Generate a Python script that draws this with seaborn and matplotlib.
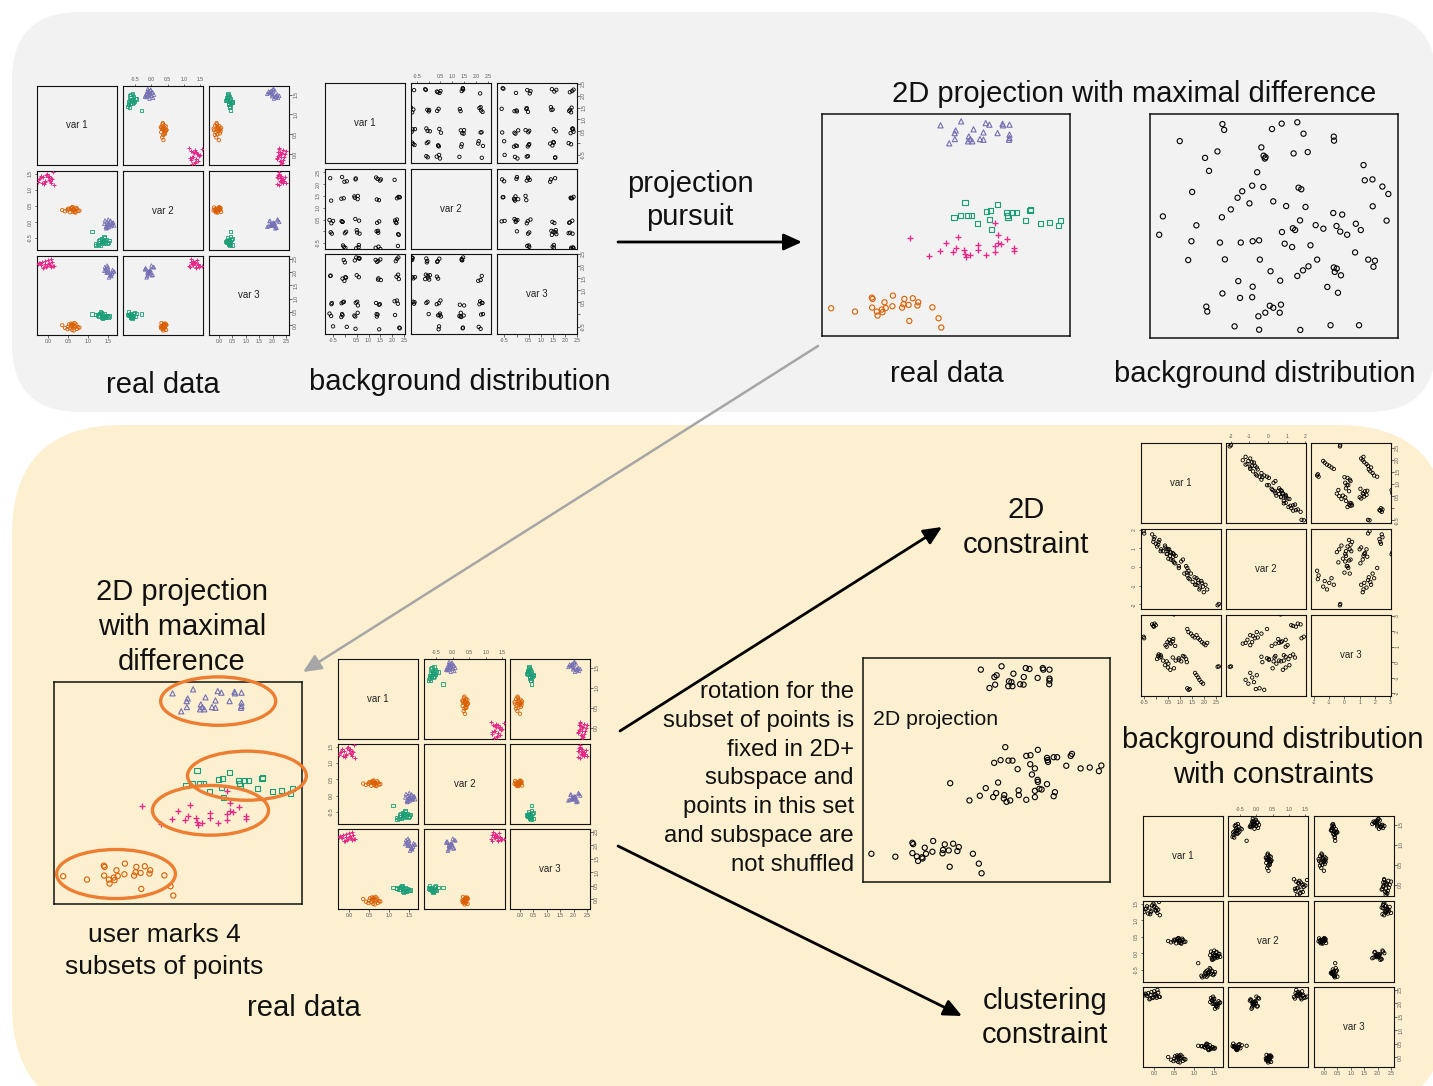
import matplotlib
matplotlib.use("Agg")
import matplotlib.pyplot as plt
from matplotlib.patches import FancyBboxPatch, Ellipse
import numpy as np
import pandas as pd
import seaborn as sns

plt.rcParams["font.family"] = ["Liberation Sans", "DejaVu Sans"]

# ---------------- data ----------------
cluster_names = ["green", "purple", "orange", "pink"]
cluster_colors = {"green": "#1b9e77", "purple": "#7570b3",
                  "orange": "#d95f02", "pink": "#e7298a"}
cluster_markers = {"green": "s", "purple": "^", "orange": "o", "pink": "+"}

# three-variable data set, four clusters
green_v1 = [1.42, 1.30, 1.25, 1.38, 1.47, 1.33, 1.20, 1.36, 1.52, 1.29,
            1.41, 1.18, 1.35, 1.45, 1.31, 1.27, 1.39, 1.50, 1.34, 1.10]
green_v2 = [-0.62, -0.55, -0.70, -0.58, -0.66, -0.52, -0.73, -0.60, -0.57, -0.64,
            -0.49, -0.68, -0.61, -0.54, -0.71, -0.59, -0.45, -0.63, -0.67, -0.30]
green_v3 = [0.30, 0.45, 0.38, 0.28, 0.36, 0.48, 0.41, 0.26, 0.34, 0.43,
            0.33, 0.40, 0.29, 0.37, 0.50, 0.35, 0.44, 0.31, 0.39, 0.42]

purple_v1 = [1.55, 1.48, 1.60, 1.42, 1.52, 1.63, 1.45, 1.57, 1.50, 1.40,
             1.58, 1.47, 1.53, 1.61, 1.44, 1.56, 1.49, 1.65, 1.51, 1.46]
purple_v2 = [0.02, -0.18, -0.08, 0.05, -0.15, -0.02, -0.20, -0.10, 0.08, -0.06,
             -0.13, 0.00, -0.09, -0.03, -0.16, 0.04, -0.07, -0.11, -0.05, -0.12]
purple_v3 = [1.88, 2.15, 1.95, 2.20, 1.80, 2.02, 2.10, 1.92, 2.18, 2.05,
             1.85, 2.25, 1.97, 2.08, 2.12, 1.90, 2.00, 2.03, 2.06, 1.98]

orange_v1 = [0.62, 0.55, 0.70, 0.48, 0.66, 0.58, 0.75, 0.60, 0.52, 0.68,
             0.64, 0.35, 0.42, 0.57, 0.72, 0.63, 0.50, 0.78, 0.61, 0.66]
orange_v2 = [0.38, 0.30, 0.44, 0.36, 0.31, 0.42, 0.34, 0.45, 0.39, 0.29,
             0.36, 0.37, 0.33, 0.43, 0.40, 0.32, 0.41, 0.35, 0.46, 0.39]
orange_v3 = [0.05, -0.12, 0.02, -0.15, 0.08, -0.02, -0.08, -0.18, 0.03, -0.05,
             -0.20, 0.00, -0.10, 0.06, -0.14, -0.04, -0.06, -0.09, 0.01, -0.03]

pink_v1 = [-0.05, -0.15, 0.05, -0.20, 0.00, -0.10, 0.10, -0.25, -0.02, 0.08,
           -0.12, 0.03, -0.18, 0.14, -0.07, 0.06, -0.22, 0.01, -0.09, 0.12]
pink_v2 = [1.45, 1.20, 1.28, 1.35, 1.40, 1.18, 1.32, 1.25, 1.50, 1.22,
           1.38, 1.30, 1.42, 1.15, 1.27, 1.36, 1.33, 1.44, 1.24, 1.55]
pink_v3 = [2.20, 2.38, 2.27, 2.33, 2.45, 2.18, 2.40, 2.30, 2.22, 2.50,
           2.15, 2.35, 2.28, 2.24, 2.42, 2.21, 2.36, 2.31, 2.32, 2.25]

# background distribution (columns shuffled independently)
bg_v1 = [-0.62, -0.55, -0.10, -0.05, 0.02, 0.45, 0.52, 0.60, 1.35, 1.42,
         1.48, 2.15, 2.25, 2.30, -0.12, 0.48, 1.40, 2.20, -0.58, 0.00,
         0.55, 1.38, 2.18, -0.08, 0.42, 1.45, 2.28, -0.65, 0.58, 1.32,
         -0.15, 0.50, 1.50, 2.10, -0.50, 0.05, 0.40, 1.36, 2.24, -0.02,
         0.62, 1.44, 2.12, -0.60, 0.46, 1.30, 2.32, -0.10, 0.54, 1.41,
         -0.04, 0.44, 1.52, 2.20, -0.57, 0.08, 0.59, 1.34, 2.26, -0.14]
bg_v2 = [2.25, -0.10, 0.40, 1.40, -0.70, 2.20, -0.05, 0.45, 1.35, -0.65,
         2.15, 0.38, -0.12, 1.45, 2.30, -0.72, 0.02, 0.50, 1.30, -0.08,
         1.50, 2.22, 0.35, -0.60, 1.42, 0.42, -0.15, 0.48, -0.68, 2.28,
         1.38, 0.05, -0.75, 2.18, 0.44, -0.02, 1.48, 0.36, -0.62, 2.10,
         -0.10, 1.32, 0.46, -0.04, 2.24, -0.70, 1.44, 0.40, 1.36, -0.06,
         -0.66, 0.52, 2.20, 1.40, 0.34, 2.12, -0.58, 0.00, 1.46, 0.43]
bg_v3 = [1.55, 0.45, -0.05, 2.20, 1.50, -0.60, 0.50, 2.25, -0.10, 1.45,
         0.40, 2.15, 1.60, -0.55, 0.00, 2.30, 1.40, 0.55, -0.08, 2.10,
         0.35, -0.02, 1.52, 0.48, 2.18, -0.62, 1.42, 0.02, 2.28, 0.45,
         -0.12, 1.58, 2.22, 0.52, -0.50, 1.48, -0.06, 2.12, 0.42, 1.35,
         2.26, 0.38, -0.04, 1.56, 0.46, 2.20, -0.58, 1.44, 0.05, 2.16,
         0.50, -0.10, 1.38, 2.24, 0.40, -0.52, 1.50, 0.00, 2.30, 0.44]

# background distribution with a 2D constraint
c2_v1 = [-0.50, -0.48,
         -0.15, -0.10, -0.05, 0.00, -0.08,
         0.62, 0.75,
         0.15, 0.20, 0.05, 0.12, 0.22, 0.10,
         0.40, 0.48, 0.55, 0.62, 0.70, 0.80, 0.72, 0.58, 0.45,
         0.30, 0.38, 0.45, 0.50, 0.52, 0.60, 0.75,
         0.70, 0.82, 0.95, 1.05, 1.18, 1.25, 1.28, 1.12, 0.95,
         1.30, 1.35, 1.45, 1.52, 1.60, 1.68, 1.75, 1.82, 1.90, 1.98, 2.05, 2.12,
         1.62, 1.68, 1.75, 1.80, 1.88, 1.95,
         1.30, 1.35, 1.40,
         2.55, 2.60]
c2_v2 = [1.92, 1.80,
         1.75, 1.35, 1.60, 1.25, 1.50,
         0.78, 0.68,
         1.45, 0.85, 1.10, 1.35, 0.95, 1.20,
         1.05, 0.70, 0.95, 0.40, 0.75, 0.20, 0.55, 0.60, 0.95,
         0.85, 1.15, 0.70, 0.95, 0.45, 0.80, 0.25,
         0.35, 0.60, -0.05, 0.30, -0.35, 0.05, -0.30, 0.40, 0.05,
         -0.05, -0.60, -0.35, -0.80, -0.55, -0.95, -0.70, -1.10, -0.85, -1.35, -0.95, -1.20,
         -0.95, -0.60, -0.85, -1.20, -0.75, -1.05,
         -0.45, -0.20, -0.65,
         -2.05, -1.98]
c2_v3 = [1.65, 1.55,
         2.45, 2.35, 2.50, 2.40, 2.30,
         3.15, 3.10,
         0.30, 0.45, 0.20, 0.50, 0.35, 0.40,
         1.10, 1.30, 1.45, 1.20, 1.35, 1.05, 1.50, 1.25, 1.00,
         0.10, -0.20, 0.05, -0.35, -0.10, -0.50, -0.40,
         0.30, 0.10, 0.25, 0.05, 0.35, 0.20, 0.00, 0.40, 0.15,
         2.15, 1.95, 1.85, 1.70, 1.60, 1.75, 1.55, 1.45, 1.30, 1.20, 1.10, 1.25,
         -0.70, -0.85, -1.00, -1.15, -1.30, -1.40,
         -1.70, -1.80, -1.75,
         -0.30, -0.28]

# 2D projection with maximal difference (projected coordinates, per cluster)
proj_purple_x = [47.8, 56.1, 66.0, 67.5, 72.8, 75.6, 73.0, 65.1, 61.1, 53.9, 53.5, 53.6,
                 59.2, 59.8, 58.9, 60.6, 63.7, 65.1, 70.8, 75.6, 75.6, 75.4, 51.3]
proj_purple_y = [94.9, 96.7, 95.9, 95.2, 95.6, 95.2, 94.9, 91.7, 93.1, 92.6, 91.4, 88.7,
                 89.9, 88.7, 87.7, 87.7, 88.7, 88.4, 91.4, 90.7, 89.2, 88.4, 86.8]
proj_green_x = [57.7, 70.8, 53.2, 55.8, 58.9, 60.4, 66.3, 67.9, 62.6, 67.7, 74.5, 74.7,
                75.0, 76.8, 78.5, 84.2, 83.9, 82.2, 88.1, 91.7, 95.4, 96.3, 68.3]
proj_green_y = [60.2, 59.1, 53.2, 54.4, 54.1, 54.1, 56.1, 56.5, 50.5, 52.6, 55.6, 54.1,
                53.4, 55.6, 55.8, 57.1, 56.4, 51.9, 50.7, 51.1, 49.6, 52.0, 47.8]
proj_pink_x = [35.4, 43.3, 47.4, 49.8, 54.9, 52.9, 54.1, 57.2, 57.5, 58.1, 59.7, 63.1,
               63.1, 66.2, 69.6, 70.8, 69.6, 69.6, 71.1, 72.3, 74.5, 77.4, 77.3]
proj_pink_y = [44.1, 36.2, 38.5, 42.1, 44.4, 38.0, 39.8, 38.8, 36.8, 35.8, 36.4, 40.8,
               38.6, 36.5, 50.8, 45.6, 40.6, 38.0, 42.0, 41.4, 43.6, 39.8, 38.3]
proj_orange_x = [3.7, 13.3, 20.1, 20.4, 20.2, 22.1, 22.4, 24.1, 24.4, 25.7, 25.2, 28.6,
                 28.4, 32.3, 32.9, 34.9, 33.2, 36.6, 38.8, 38.5, 44.5, 35.2, 47.0, 48.1]
proj_orange_y = [12.5, 11.0, 17.3, 16.7, 12.8, 11.0, 9.2, 11.9, 10.7, 12.6, 15.2, 18.2,
                 13.4, 12.8, 14.3, 14.0, 16.7, 17.0, 15.2, 13.7, 12.9, 6.8, 8.0, 3.8]

# same projection of the background distribution
bgproj_x = [29.2, 29.9, 49.2, 53.1, 59.4, 61.9, 74.1, 74.2, 12.0, 27.2, 22.2, 44.9,
            45.8, 46.6, 46.3, 57.9, 63.6, 86.1, 23.8, 43.2, 86.6, 89.7, 93.7, 96.1,
            17.0, 37.2, 41.2, 45.7, 59.9, 61.0, 35.3, 40.1, 49.7, 54.9, 62.7, 89.8,
            5.2, 32.6, 29.0, 73.9, 77.5, 60.5, 95.4, 18.7, 57.6, 58.5, 53.2, 66.8,
            69.9, 75.2, 76.7, 79.5, 83.0, 85.0, 3.7, 16.7, 28.2, 36.6, 41.4, 44.0,
            54.3, 57.3, 64.7, 82.7, 15.4, 30.2, 44.3, 67.4, 88.0, 90.7, 90.1, 48.6,
            61.7, 63.9, 74.1, 75.3, 74.5, 77.0, 59.4, 35.6, 52.5, 41.4, 71.5, 75.8,
            29.2, 36.3, 41.2, 22.7, 23.1, 48.3, 49.7, 52.8, 46.5, 52.3, 43.7, 34.1,
            44.0, 60.6, 72.8, 84.3]
bgproj_y = [95.5, 92.9, 93.3, 95.7, 96.3, 91.2, 89.9, 88.1, 87.9, 83.3, 80.4, 85.1,
            81.4, 80.7, 80.1, 82.4, 83.0, 77.2, 74.6, 74.0, 70.4, 70.8, 67.6, 64.3,
            65.2, 65.5, 68.0, 67.4, 67.1, 66.4, 62.6, 60.1, 61.0, 58.9, 58.5, 58.8,
            54.3, 57.4, 53.9, 55.8, 55.1, 52.5, 52.4, 50.3, 49.0, 48.2, 47.3, 50.4,
            48.8, 50.0, 47.5, 46.1, 51.0, 48.2, 46.1, 43.2, 42.6, 42.6, 43.2, 43.6,
            42.1, 40.6, 41.4, 38.2, 34.8, 35.1, 35.0, 35.0, 35.0, 34.5, 31.8, 29.8,
            30.2, 32.0, 31.5, 31.0, 29.5, 28.0, 27.7, 25.4, 25.6, 22.9, 22.8, 20.2,
            19.9, 17.9, 18.2, 14.0, 11.8, 14.4, 13.5, 14.9, 11.3, 11.3, 9.7, 5.2,
            3.7, 3.6, 5.7, 5.7]

# 2D projection of the constrained background (rotation fixed for the subset)
fixed_x = [47.7, 56.1, 60.9, 65.9, 67.4, 72.8, 73.0, 75.5, 53.2, 54.1, 53.5, 51.2,
           59.1, 60.1, 58.8, 60.5, 63.6, 65.0, 65.1, 70.7, 75.5, 75.5, 75.4,
           57.6, 70.8, 66.1, 67.8, 53.1, 55.7, 58.9, 60.5, 62.6, 67.7, 69.6, 68.4,
           70.7, 70.8, 74.5, 74.7, 74.9, 77.2, 78.6, 84.1, 84.6, 82.3, 88.1, 91.8,
           95.5, 96.5, 35.3, 49.7, 47.3, 43.1, 53.9, 54.7, 52.7, 57.2, 57.0, 58.1,
           59.6, 63.0, 63.1, 66.1, 69.6, 69.6, 71.4, 72.3, 74.5, 77.2, 77.7,
           3.4, 13.1, 20.0, 20.3, 20.0, 21.8, 22.3, 23.8, 24.1, 25.0, 25.5, 28.4,
           28.1, 32.2, 32.4, 33.1, 34.7, 36.5, 38.8, 38.2, 44.5, 35.1, 46.9, 48.0]
fixed_y = [94.8, 96.3, 93.0, 95.5, 95.1, 95.5, 94.8, 94.8, 91.5, 92.3, 88.1, 86.6,
           89.6, 89.2, 87.4, 87.4, 88.3, 88.1, 91.5, 91.1, 90.8, 89.9, 88.3,
           60.2, 59.0, 56.3, 56.6, 53.2, 54.4, 54.2, 54.2, 50.4, 52.6, 50.7, 48.0,
           45.6, 44.7, 55.4, 54.4, 53.6, 55.7, 55.7, 56.3, 57.2, 51.9, 50.7, 51.1,
           49.5, 52.0, 44.1, 41.9, 38.5, 36.4, 39.7, 44.4, 37.9, 38.8, 37.3, 35.8,
           36.4, 40.9, 38.8, 36.7, 40.7, 37.9, 41.6, 41.3, 43.7, 38.3, 40.1,
           12.6, 11.3, 17.5, 16.9, 12.9, 11.4, 9.4, 11.0, 10.5, 15.3, 12.6, 18.3,
           13.5, 12.8, 14.3, 16.8, 14.1, 17.1, 15.6, 13.8, 12.6, 6.8, 8.2, 3.9]

# marked subsets (centre x, centre y, width, height) in projection units
subset_ellipses = [(66.2, 91.4, 46.4, 21.8), (77.8, 57.8, 47.9, 22.1),
                   (63.1, 42.2, 46.8, 22.4), (25.0, 13.5, 47.9, 22.1)]

real_df = pd.DataFrame({
    "var1": green_v1 + purple_v1 + orange_v1 + pink_v1,
    "var2": green_v2 + purple_v2 + orange_v2 + pink_v2,
    "var3": green_v3 + purple_v3 + orange_v3 + pink_v3,
    "cluster": ["green"] * 20 + ["purple"] * 20 + ["orange"] * 20 + ["pink"] * 20,
})
bg_df = pd.DataFrame({"var1": bg_v1, "var2": bg_v2, "var3": bg_v3})
c2_df = pd.DataFrame({"var1": c2_v1, "var2": c2_v2, "var3": c2_v3})
proj = {"purple": (proj_purple_x, proj_purple_y), "green": (proj_green_x, proj_green_y),
        "pink": (proj_pink_x, proj_pink_y), "orange": (proj_orange_x, proj_orange_y)}

# ---------------- figure ----------------
W, H = 1433, 1086
fig = plt.figure(figsize=(W / 100, H / 100), dpi=100)
fig.patch.set_facecolor("white")

bg = fig.add_axes([0, 0, 1, 1], zorder=0)
bg.set_xlim(0, W)
bg.set_ylim(H, 0)
bg.axis("off")

GRAY = "#f2f2f2"
CREAM = "#fdf0d1"
bg.add_patch(FancyBboxPatch((12, 12), 1424, 400, boxstyle="round,pad=0,rounding_size=68",
                            fc=GRAY, ec="none"))
bg.add_patch(FancyBboxPatch((12, 425), 1436, 690, boxstyle="round,pad=0,rounding_size=110",
                            fc=CREAM, ec="none"))


def px_axes(x0, y0, x1, y1):
    ax = fig.add_axes([x0 / W, 1 - y1 / H, (x1 - x0) / W, (y1 - y0) / H], zorder=2)
    ax.set_facecolor("none")
    return ax


def frame(ax, lw):
    for sp in ax.spines.values():
        sp.set_visible(True)
        sp.set_color("#111111")
        sp.set_linewidth(lw)


def scatter(ax, x, y, color, marker, size, lw):
    x = np.asarray(x, dtype=float)
    y = np.asarray(y, dtype=float)
    if marker == "+":
        sns.scatterplot(x=x, y=y, ax=ax, marker="+", color=color, edgecolor=None,
                        s=size * 1.6, linewidth=lw * 1.2, legend=False, zorder=3)
    else:
        sns.scatterplot(x=x, y=y, ax=ax, marker=marker, color=color, facecolor="none",
                        edgecolor=color, s=size, linewidth=lw, legend=False, zorder=3)
    ax.set_xlabel("")
    ax.set_ylabel("")


VARS = ["var1", "var2", "var3"]


def pairs(cols_px, rows_px, df, lims, ticks, labels, colored, size=6, lw=0.6):
    for i in range(3):
        for j in range(3):
            ax = px_axes(cols_px[j][0], rows_px[i][0], cols_px[j][1], rows_px[i][1])
            if i == j:
                ax.text(0.5, 0.5, f"var {i + 1}", transform=ax.transAxes, ha="center",
                        va="center", fontsize=7, color="#222222")
            elif colored:
                for c in cluster_names:
                    sub = df[df["cluster"] == c]
                    scatter(ax, sub[VARS[j]], sub[VARS[i]], cluster_colors[c],
                            cluster_markers[c], size, lw)
            else:
                scatter(ax, df[VARS[j]], df[VARS[i]], "black", "o", size, lw)
            ax.set_xlim(lims[j])
            ax.set_ylim(lims[i])
            frame(ax, 0.8)
            bottom = (i == 2 and j % 2 == 0)
            top = (i == 0 and j % 2 == 1)
            left = (j == 0 and i % 2 == 1)
            right = (j == 2 and i % 2 == 0)
            if bottom or top:
                ax.set_xticks(ticks[j])
                ax.set_xticklabels(labels[j])
                ax.tick_params(axis="x", bottom=bottom, top=top, labelbottom=bottom,
                               labeltop=top, length=1.8, width=0.5, pad=1.2,
                               labelsize=3.6, labelcolor="#555555", color="#333333")
            else:
                ax.set_xticks([])
            if left or right:
                ax.set_yticks(ticks[i])
                ax.set_yticklabels(labels[i])
                ax.tick_params(axis="y", left=left, right=right, labelleft=left,
                               labelright=right, length=1.8, width=0.5, pad=1.2,
                               labelsize=3.6, labelcolor="#555555", color="#333333",
                               labelrotation=90)
                for t in ax.get_yticklabels():
                    t.set_va("center")
            else:
                ax.set_yticks([])


def fmt(vals, skip=()):
    return ["" if v in skip else f"{v:.1f}" for v in vals]


# tick layouts
real_lims = [(-0.28, 1.72), (-0.87, 1.58), (-0.37, 2.61)]
real_ticks = [[0.0, 0.5, 1.0, 1.5], [-0.5, 0.0, 0.5, 1.0, 1.5],
              [0.0, 0.5, 1.0, 1.5, 2.0, 2.5]]
real_labels = [fmt(t) for t in real_ticks]

bg_lims = [(-0.84, 2.54), (-0.75, 2.64), (-0.81, 2.44)]
bg_ticks = [[-0.5, 0.0, 0.5, 1.0, 1.5, 2.0, 2.5]] * 3
bg_labels = [fmt(t, skip=(0.0,)) for t in bg_ticks]

c2_lims = [(-0.61, 2.69), (-2.25, 2.04), (-2.2, 3.06)]
c2_ticks = [[-0.5, 0.0, 0.5, 1.0, 1.5, 2.0, 2.5], [-2, -1, 0, 1, 2], [-2, -1, 0, 1, 2, 3]]
c2_labels = [fmt(c2_ticks[0], skip=(0.0,)), [str(v) for v in c2_ticks[1]],
             [str(v) for v in c2_ticks[2]]]

# top row: real data and background distribution
pairs([(37, 117), (123, 203), (209, 289)], [(86, 165), (171, 250), (256, 335)],
      real_df, real_lims, real_ticks, real_labels, colored=True)
pairs([(325, 405), (411, 491), (497, 577)], [(83, 163), (169, 249), (254, 334)],
      bg_df, bg_lims, bg_ticks, bg_labels, colored=False)

# bottom: real data again, constrained backgrounds
pairs([(338, 418), (424, 505), (510, 590)], [(659, 739), (744, 824), (829, 909)],
      real_df, real_lims, real_ticks, real_labels, colored=True)
pairs([(1141, 1221), (1226, 1306), (1311, 1391)], [(443, 523), (529, 609), (615, 696)],
      c2_df, c2_lims, c2_ticks, c2_labels, colored=False)
pairs([(1143, 1223), (1228, 1308), (1314, 1394)], [(816, 896), (901, 982), (987, 1067)],
      real_df, real_lims, real_ticks, real_labels, colored=False)


def proj_axes(x0, y0, x1, y1):
    ax = px_axes(x0, y0, x1, y1)
    ax.set_xticks([])
    ax.set_yticks([])
    frame(ax, 1.1)
    return ax


def draw_projection(ax):
    for c in ["purple", "green", "pink", "orange"]:
        px, py = proj[c]
        scatter(ax, px, py, cluster_colors[c], cluster_markers[c], 14, 0.8)
    ax.set_xlim(0, 100)
    ax.set_ylim(0, 100)


ax_p1 = proj_axes(822, 114, 1070, 336)
draw_projection(ax_p1)

ax_p2 = proj_axes(1150, 114, 1398, 338)
scatter(ax_p2, bgproj_x, bgproj_y, "black", "o", 14, 0.8)
ax_p2.set_xlim(0, 100)
ax_p2.set_ylim(0, 100)

ax_p3 = proj_axes(54, 682, 302, 904)
draw_projection(ax_p3)
for cx, cy, ew, eh in subset_ellipses:
    ax_p3.add_patch(Ellipse((cx, cy), ew, eh, fill=False, ec="#ed7d31", lw=2.4,
                            clip_on=False, zorder=4))

ax_p4 = proj_axes(863, 658, 1110, 882)
scatter(ax_p4, fixed_x, fixed_y, "black", "o", 14, 0.8)
ax_p4.set_xlim(0, 100)
ax_p4.set_ylim(0, 100)
ax_p4.text(873, 725, "2D projection", transform=bg.transData, fontsize=15.3,
           color="#111111", ha="left", va="baseline")

# ---------------- arrows ----------------
def arrow(x0, y0, x1, y1, color="black", lw=2.0):
    bg.annotate("", xy=(x1, y1), xytext=(x0, y0),
                arrowprops=dict(arrowstyle="-|>,head_length=0.55,head_width=0.25",
                                lw=lw, color=color, shrinkA=0, shrinkB=0,
                                mutation_scale=20))


arrow(618, 242, 802, 242)
arrow(818, 346, 303, 672, color="#a6a6a6", lw=1.8)
arrow(620, 731, 942, 527)
arrow(618, 846, 962, 1016)

# ---------------- labels ----------------
TXT = "#111111"


def label(x, y, s, size=21, ha="center"):
    bg.text(x, y, s, fontsize=size, color=TXT, ha=ha, va="baseline")


label(163, 393, "real data")
label(460, 390, "background distribution")
label(690, 192, "projection")
label(690, 225, "pursuit")
label(1134, 102, "2D projection with maximal difference")
label(947, 382, "real data")
label(1265, 382, "background distribution")

label(182, 600, "2D projection")
label(182, 635, "with maximal")
label(182, 670, "difference")
label(164, 942, "user marks 4", size=19)
label(164, 974, "subsets of points", size=19)
label(304, 1016, "real data")

label(1026, 518, "2D")
label(1026, 553, "constraint")
label(1273, 748, "background distribution")
label(1273, 783, "with constraints")
label(1045, 1009, "clustering")
label(1045, 1043, "constraint")

rotation_lines = ["rotation for the", "subset of points is", "fixed in 2D+",
                  "subspace and", "points in this set", "and subspace are", "not shuffled"]
for k, line in enumerate(rotation_lines):
    label(854, 698 + k * 28.8, line, size=17.2, ha="right")

fig.savefig("out.png", dpi=100, facecolor="white")
